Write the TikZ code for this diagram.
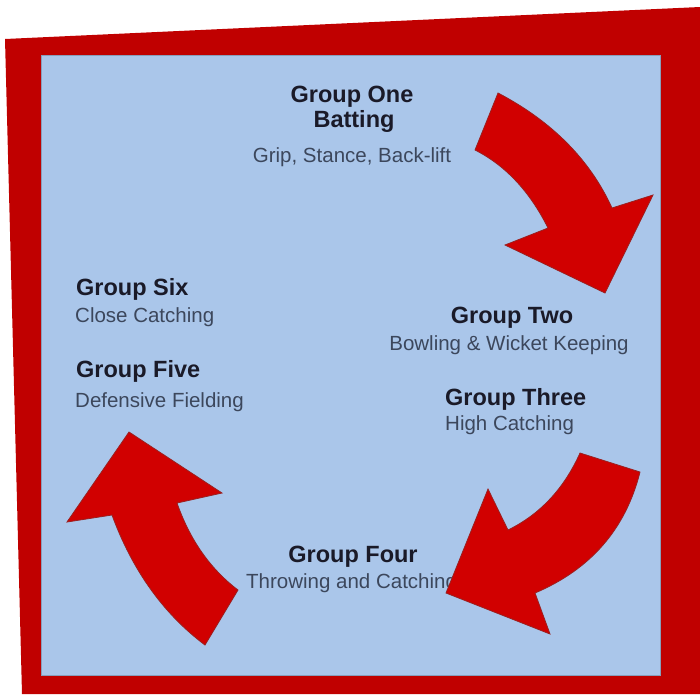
\documentclass[tikz,border=0pt]{standalone}
\usepackage{fontspec}
\setmainfont{Liberation Sans}
\usetikzlibrary{calc}
\definecolor{framered}{HTML}{C00000}
\definecolor{panelblue}{HTML}{AAC6EA}
\definecolor{arrowred}{HTML}{D10000}
\definecolor{arrowedge}{HTML}{9A2020}
\definecolor{titleink}{HTML}{1A1A28}
\definecolor{detailink}{HTML}{3C475C}
\tikzstyle{bigarrow}=[fill=arrowred,draw=arrowedge,line width=0.8pt,line join=miter]
\tikzstyle{grouptitle}=[inner sep=0pt,text=titleink,font=\fontsize{23.5}{26}\selectfont\bfseries]
\tikzstyle{groupdetail}=[inner sep=0pt,text=detailink,font=\fontsize{20.5}{24}\selectfont]
\begin{document}
\begin{tikzpicture}[x=1pt,y=-1pt]
  \useasboundingbox (0,0) rectangle (700,694);
  % tilted frame and panel
  \fill[framered] (5,39) -- (700,7) -- (700,694) -- (22,694) -- cycle;
  \fill[panelblue,draw=panelblue!80!black,line width=0.6pt] (41,55) rectangle (660,675);
  % group texts
  \node[grouptitle,anchor=base] (onetitle) at (352,102) {Group One};
  \node[grouptitle,anchor=base] (onesub) at (354,127) {Batting};
  \node[groupdetail,anchor=base] (onedetail) at (352,162) {Grip, Stance, Back-lift};
  \node[grouptitle,anchor=base] (twotitle) at (512,323) {Group Two};
  \node[groupdetail,anchor=base] (twodetail) at (509,350) {Bowling \& Wicket Keeping};
  \node[grouptitle,anchor=base west] (threetitle) at (445,405) {Group Three};
  \node[groupdetail,anchor=base west] (threedetail) at (445,430) {High Catching};
  \node[grouptitle,anchor=base] (fourtitle) at (353,562) {Group Four};
  \node[groupdetail,anchor=base west] (fourdetail) at (246,588) {Throwing and Catching};
  \node[grouptitle,anchor=base west] (fivetitle) at (76,377) {Group Five};
  \node[groupdetail,anchor=base west] (fivedetail) at (75,407) {Defensive Fielding};
  \node[grouptitle,anchor=base west] (sixtitle) at (76,295) {Group Six};
  \node[groupdetail,anchor=base west] (sixdetail) at (75,322) {Close Catching};
  % arrow one -> two
  \fill[bigarrow] (475,150) -- (498,93)
    .. controls (552,121.3) and (590,159.7) .. (612,208)
    -- (653,195) -- (605,293) -- (505,245) -- (548,228)
    .. controls (529.7,191.3) and (505.3,165.3) .. (475,150) -- cycle;
  % arrow three -> four
  \fill[bigarrow] (580,453) -- (640,472)
    .. controls (625.7,529) and (590.7,569.3) .. (535,593)
    -- (550,634) -- (446,593) -- (488,489) -- (508,530)
    .. controls (540,514.3) and (564,488.7) .. (580,453) -- cycle;
  % arrow four -> five
  \fill[bigarrow] (238,590) -- (205,645)
    .. controls (163.3,613.7) and (132.3,570.3) .. (112,515)
    -- (67,522) -- (129,432) -- (222,493) -- (177,503)
    .. controls (190,540) and (210.3,569) .. (238,590) -- cycle;
\end{tikzpicture}
\end{document}
